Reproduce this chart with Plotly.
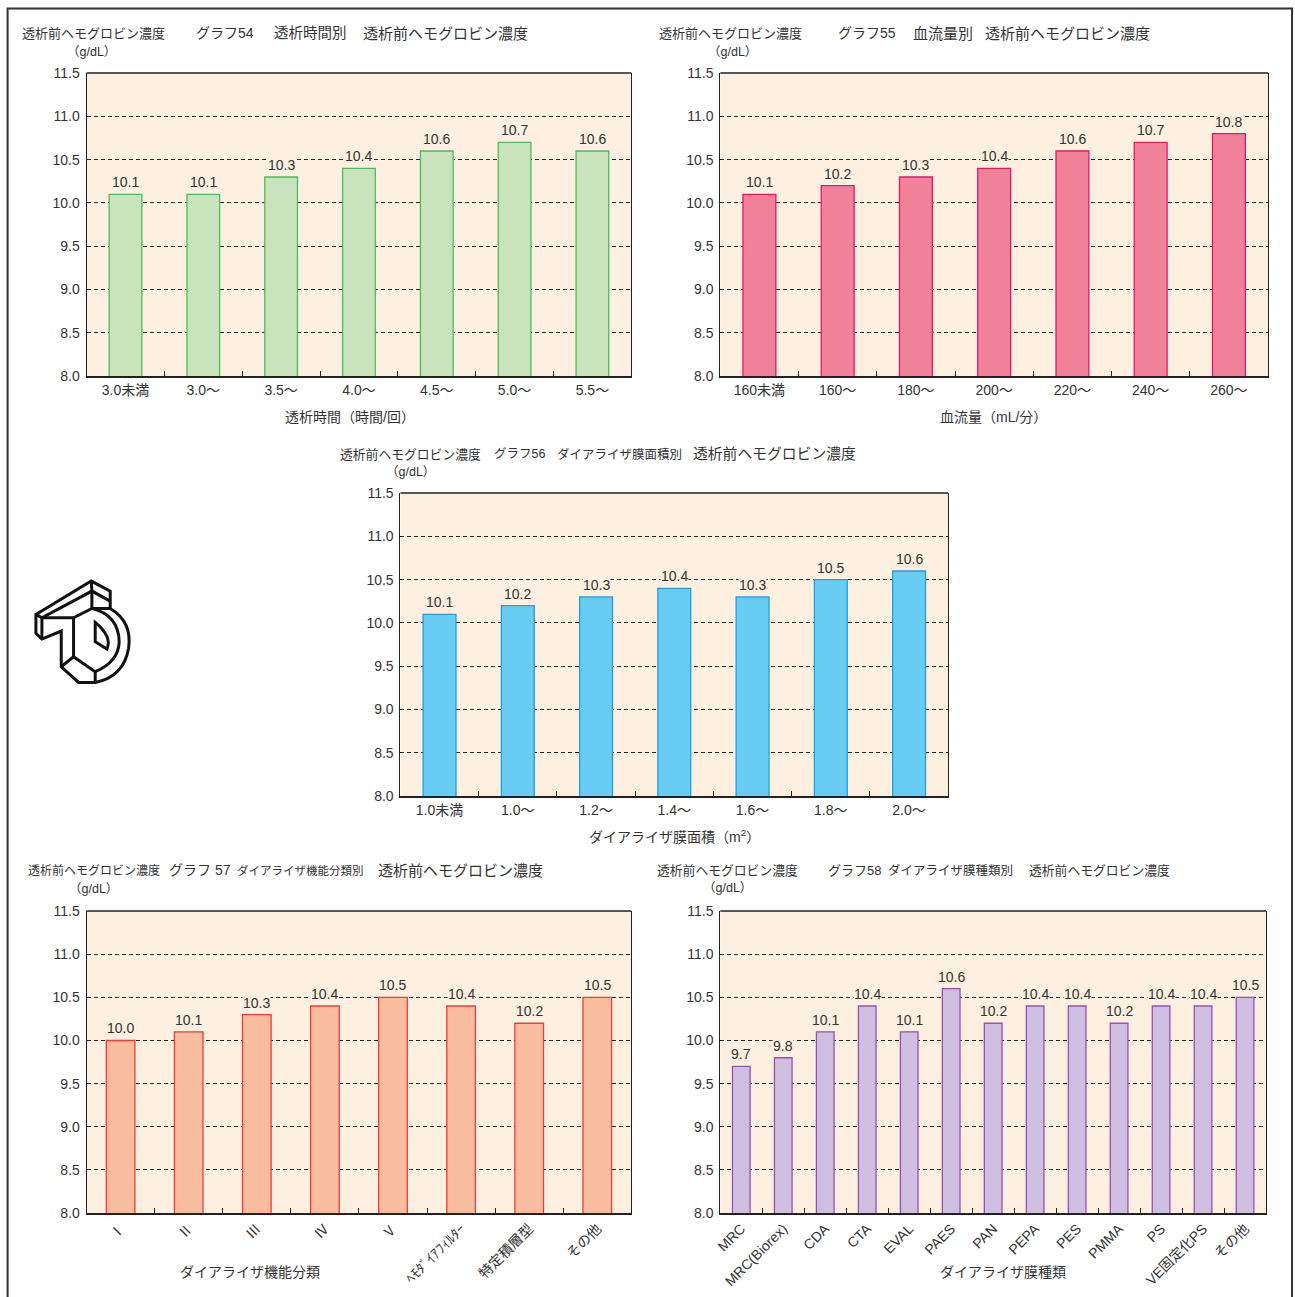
import plotly.graph_objects as go

W, H = 1295, 1297
FONT = "Liberation Sans Narrow, Liberation Sans, Noto Sans CJK JP, sans-serif"
JFONT = "Liberation Sans, Noto Sans CJK JP, sans-serif"
TXT = "#333333"
PLOT_BG = "#fdf0e0"

# ---- data ----
hours_cats = ["3.0未満", "3.0～", "3.5～", "4.0～", "4.5～", "5.0～", "5.5～"]
hours_hb = [10.1, 10.1, 10.3, 10.4, 10.6, 10.7, 10.6]

flow_cats = ["160未満", "160～", "180～", "200～", "220～", "240～", "260～"]
flow_hb = [10.1, 10.2, 10.3, 10.4, 10.6, 10.7, 10.8]

area_cats = ["1.0未満", "1.0～", "1.2～", "1.4～", "1.6～", "1.8～", "2.0～"]
area_hb = [10.1, 10.2, 10.3, 10.4, 10.3, 10.5, 10.6]

func_cats = ["Ⅰ", "Ⅱ", "Ⅲ", "Ⅳ", "Ⅴ", "ﾍﾓﾀﾞｲｱﾌｨﾙﾀｰ", "特定積層型", "その他"]
func_hb = [10.0, 10.1, 10.3, 10.4, 10.5, 10.4, 10.2, 10.5]

memb_cats = ["MRC", "MRC(Biorex)", "CDA", "CTA", "EVAL", "PAES", "PAN", "PEPA",
             "PES", "PMMA", "PS", "VE固定化PS", "その他"]
memb_hb = [9.7, 9.8, 10.1, 10.4, 10.1, 10.6, 10.2, 10.4, 10.4, 10.2, 10.4, 10.4, 10.5]

y_ticks = [8.0, 8.5, 9.0, 9.5, 10.0, 10.5, 11.0, 11.5]


# page-layout helpers: layout positions in page pixels -> paper fractions
def px(x):
    return ((x - 5.4) / 0.9958) / W


def py(y):
    return 1 - ((y - 7.9) / 0.9877) / H


# panel settings: plot-area box in pixels, colours, heading pieces
panels = [
    dict(cats=hours_cats, vals=hours_hb, box=(86, 73, 631, 376),
         fill="#c9e4bd", edge="#4cbc5a", angle=0,
         head=[("透析前ヘモグロビン濃度", 19, 13), ("グラフ54", 193, 14),
               ("透析時間別", 272, 14.5), ("透析前ヘモグロビン濃度", 361, 15)],
         head_y=33, unit=(64, 52), xtitle=("透析時間（時間/回）", 350, 417)),
    dict(cats=flow_cats, vals=flow_hb, box=(720, 73, 1268, 376),
         fill="#f08399", edge="#e5176b", angle=0,
         head=[("透析前ヘモグロビン濃度", 657, 13), ("グラフ55", 836, 14),
               ("血流量別", 911, 15), ("透析前ヘモグロビン濃度", 983, 15)],
         head_y=33, unit=(706, 52), xtitle=("血流量（mL/分）", 993, 417)),
    dict(cats=area_cats, vals=area_hb, box=(400, 493, 948, 796),
         fill="#69cdf3", edge="#1a9fe0", angle=0,
         head=[("透析前ヘモグロビン濃度", 338, 12.8), ("グラフ56", 492, 12.5),
               ("ダイアライザ膜面積別", 555, 12.5), ("透析前ヘモグロビン濃度", 691, 14.8)],
         head_y=454, unit=(384, 472), xtitle=("ダイアライザ膜面積（m<sup>2</sup>）", 674, 836)),
    dict(cats=func_cats, vals=func_hb, box=(86, 911, 631, 1213),
         fill="#f8bd9e", edge="#ef3b3b", angle=-45,
         head=[("透析前ヘモグロビン濃度", 25, 12), ("グラフ 57", 166, 14),
               ("ダイアライザ機能分類別", 234, 11.5), ("透析前ヘモグロビン濃度", 376, 15)],
         head_y=870, unit=(66, 889), xtitle=("ダイアライザ機能分類", 250, 1272)),
    dict(cats=memb_cats, vals=memb_hb, box=(720, 911, 1266, 1213),
         fill="#cebfe0", edge="#9a4fb0", angle=-45,
         head=[("透析前ヘモグロビン濃度", 655, 12.8), ("グラフ58", 826, 13),
               ("ダイアライザ膜種類別", 886, 12.5), ("透析前ヘモグロビン濃度", 1027, 12.8)],
         head_y=870, unit=(701, 888), xtitle=("ダイアライザ膜種類", 1003, 1272)),
]

fig = go.Figure()
annotations = []
layout_axes = {}

for i, p in enumerate(panels, start=1):
    sfx = "" if i == 1 else str(i)
    x0, y0, x1, y1 = p["box"]
    fig.add_trace(go.Bar(
        x=p["cats"], y=p["vals"],
        xaxis="x" + sfx, yaxis="y" + sfx,
        width=0.42,
        marker=dict(color=p["fill"], line=dict(color=p["edge"], width=1.3)),
        showlegend=False, hoverinfo="skip",
    ))
    # value labels above each bar, on a plot-coloured box so the grid breaks behind them
    for c, v in zip(p["cats"], p["vals"]):
        annotations.append(dict(
            text=f"{v:.1f}", x=c, y=v, xref="x" + sfx, yref="y" + sfx,
            xanchor="center", yanchor="bottom", yshift=3, showarrow=False,
            bgcolor=PLOT_BG, borderpad=0,
            font=dict(family=FONT, size=14, color=TXT)))
    layout_axes["xaxis" + sfx] = dict(
        domain=[px(x0), px(x1)], anchor="y" + sfx,
        type="category", categoryorder="array", categoryarray=p["cats"],
        tickangle=p["angle"], tickfont=dict(family=FONT, size=14, color=TXT),
        ticks="inside", tickson="boundaries", ticklen=5, tickcolor="#222",
        showline=True, linecolor="#222", linewidth=2, mirror=False,
        showgrid=False, zeroline=False, fixedrange=True,
    )
    layout_axes["yaxis" + sfx] = dict(
        domain=[py(y1), py(y0)], anchor="x" + sfx,
        range=[8.0, 11.5], tickmode="array", tickvals=y_ticks,
        ticktext=[f"{v:.1f}" for v in y_ticks],
        tickfont=dict(family=FONT, size=14, color=TXT), ticklabelstandoff=3,
        ticks="", showline=True, linecolor="#222", linewidth=1, mirror=True,
        showgrid=True, gridcolor="#222", gridwidth=1, griddash="4px,3px",
        zeroline=False, fixedrange=True,
    )
    # background of plot area
    fig.add_shape(type="rect", xref="paper", yref="paper",
                  x0=px(x0), x1=px(x1), y0=py(y1), y1=py(y0),
                  fillcolor=PLOT_BG, line=dict(width=0), layer="below")
    # top border of plot area
    fig.add_shape(type="line", xref="paper", yref="paper",
                  x0=px(x0), x1=px(x1), y0=py(y0), y1=py(y0),
                  line=dict(color="#222", width=1.5))

    for txt, tx, fs in p["head"]:
        annotations.append(dict(text=txt, x=px(tx), y=py(p["head_y"]), xref="paper", yref="paper",
                                xanchor="left", yanchor="middle", showarrow=False,
                                font=dict(family=JFONT, size=fs, color=TXT)))
    ux, uy = p["unit"]
    annotations.append(dict(text="（g/dL）", x=px(ux), y=py(uy), xref="paper", yref="paper",
                            xanchor="left", yanchor="middle", showarrow=False,
                            font=dict(family=FONT, size=12.5, color=TXT)))
    xt, xtx, xty = p["xtitle"]
    annotations.append(dict(text=xt, x=px(xtx), y=py(xty), xref="paper", yref="paper",
                            xanchor="center", yanchor="middle", showarrow=False,
                            font=dict(family=JFONT, size=14, color=TXT)))

# outer page frame (left, top, right edges)
fig.add_shape(type="path", xref="paper", yref="paper",
              path=f"M{px(7):.5f},{py(1310):.5f} L{px(7):.5f},{py(8.5):.5f} "
                   f"L{px(1292):.5f},{py(8.5):.5f} L{px(1292):.5f},{py(1310):.5f}",
              line=dict(color="#333", width=2))


# isometric "TD" logo outline
def lp(zx, zy):
    x = 28 + zx / 3
    y = 575 + zy / 3
    return f"{px(x):.5f},{py(y):.5f}"


logo_paths = [
    # outer silhouette
    "M" + lp(22, 118) + " L" + lp(188, 18) + " L" + lp(245, 48) + " L" + lp(245, 100)
    + " Q" + lp(312, 140) + " " + lp(300, 220)
    + " Q" + lp(285, 305) + " " + lp(200, 322)
    + " L" + lp(150, 322) + " L" + lp(98, 275) + " L" + lp(98, 168)
    + " L" + lp(40, 192) + " L" + lp(22, 175) + " Z",
    # top face of the T bar
    "M" + lp(22, 118) + " L" + lp(40, 128) + " L" + lp(190, 48) + " L" + lp(245, 78),
    "M" + lp(188, 18) + " L" + lp(190, 48),
    "M" + lp(40, 128) + " L" + lp(40, 192),
    # T stem front face
    "M" + lp(40, 128) + " L" + lp(135, 128) + " L" + lp(135, 245) + " L" + lp(98, 275),
    "M" + lp(135, 128) + " L" + lp(190, 100) + " L" + lp(245, 100),
    "M" + lp(190, 48) + " L" + lp(190, 100),
    # bottom edge
    "M" + lp(135, 245) + " L" + lp(200, 290) + " L" + lp(200, 322),
    # D inner curve
    "M" + lp(190, 100) + " Q" + lp(270, 120) + " " + lp(272, 200)
    + " Q" + lp(270, 260) + " " + lp(200, 290),
    # D counter
    "M" + lp(200, 142) + " L" + lp(200, 200) + " L" + lp(235, 222)
    + " Q" + lp(252, 185) + " " + lp(200, 142) + " Z",
]
for path in logo_paths:
    fig.add_shape(type="path", xref="paper", yref="paper", path=path,
                  line=dict(color="#111", width=3))

fig.update_layout(
    width=W, height=H, margin=dict(l=0, r=0, t=0, b=0),
    paper_bgcolor="white", plot_bgcolor="rgba(0,0,0,0)",
    font=dict(family=FONT, color=TXT), annotations=annotations,
    bargap=0.58, **layout_axes,
)

fig.write_html("out.html")
